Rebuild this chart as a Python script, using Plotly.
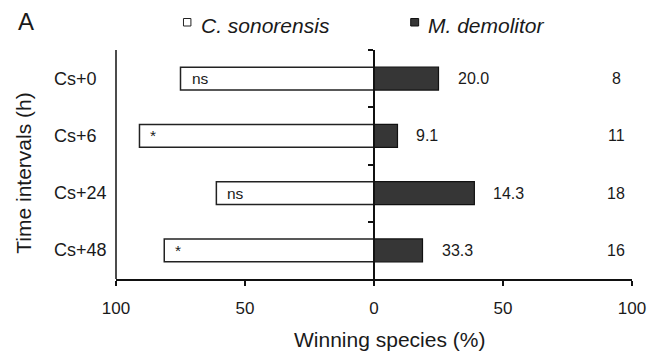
import plotly.graph_objects as go

# Outcome of competition between the two parasitoids at each time interval
intervals = ["Cs+0", "Cs+6", "Cs+24", "Cs+48"]
cs_win = [75.0, 90.9, 61.1, 81.3]      # C. sonorensis winning (%)
md_win = [25.0, 9.1, 38.9, 18.8]       # M. demolitor winning (%)
signif = ["ns", "*", "ns", "*"]
md_labels = ["20.0", "9.1", "14.3", "33.3"]
n_hosts = ["8", "11", "18", "16"]

x_ticks = [-100, -50, 0, 50, 100]
x_ticktext = ["100", "50", "0", "50", "100"]

W, H = 658, 358
L, R, T, B = 116, 22, 50, 79
PW, PH = W - L - R, H - T - B
FONT = "Liberation Sans, Arial, Helvetica, sans-serif"
INK = "#1a1a1a"


def px(x):
    return (x - L) / PW


def py(y):
    return (H - B - y) / PH


fig = go.Figure()
fig.add_trace(go.Bar(
    y=intervals, x=[-v for v in cs_win], orientation="h", width=0.4,
    marker=dict(color="white", line=dict(color="#222222", width=1.5)),
    name="C. sonorensis", hoverinfo="skip",
))
fig.add_trace(go.Bar(
    y=intervals, x=md_win, orientation="h", width=0.4,
    marker=dict(color="#363636", line=dict(color="#111111", width=1.2)),
    name="M. demolitor", hoverinfo="skip",
))

ann = []
for cat, v, s in zip(intervals, cs_win, signif):
    ann.append(dict(x=-v, y=cat, xref="x", yref="y", text=s, showarrow=False,
                    xanchor="left", xshift=9, font=dict(size=15.5, color=INK)))
for cat, v, t in zip(intervals, md_win, md_labels):
    ann.append(dict(x=v, y=cat, xref="x", yref="y", text=t, showarrow=False,
                    xanchor="left", xshift=17, font=dict(size=16, color=INK)))
for cat, n in zip(intervals, n_hosts):
    ann.append(dict(x=px(620), y=cat, xref="paper", yref="y", text=n, showarrow=False,
                    xanchor="center", font=dict(size=16, color=INK)))
# category labels, left aligned
for cat in intervals:
    ann.append(dict(x=px(52), y=cat, xref="paper", yref="y", text=cat, showarrow=False,
                    xanchor="left", font=dict(size=18, color=INK)))
# axis titles
ann.append(dict(x=px(22), y=py(173), xref="paper", yref="paper", text="Time intervals (h)",
                showarrow=False, textangle=-90, xanchor="center", yanchor="middle",
                font=dict(size=21, color=INK)))
ann.append(dict(x=px(392), y=py(339), xref="paper", yref="paper", text="Winning species (%)",
                showarrow=False, xanchor="center", yanchor="middle",
                font=dict(size=21, color=INK)))
# panel letter
ann.append(dict(x=px(25), y=py(22), xref="paper", yref="paper", text="A",
                showarrow=False, xanchor="center", yanchor="middle",
                font=dict(size=24, color=INK)))
# legend texts
ann.append(dict(x=px(200), y=py(25.5), xref="paper", yref="paper", text="<i>C. sonorensis</i>",
                showarrow=False, xanchor="left", yanchor="middle",
                font=dict(size=21, color=INK)))
ann.append(dict(x=px(428), y=py(25.5), xref="paper", yref="paper", text="<i>M. demolitor</i>",
                showarrow=False, xanchor="left", yanchor="middle",
                font=dict(size=21, color=INK)))

shapes = [
    # left frame line
    dict(type="line", xref="paper", yref="paper", x0=0, x1=0, y0=0, y1=1,
         line=dict(color="#111111", width=1.5)),
    # legend swatches
    dict(type="rect", xref="paper", yref="paper", x0=px(184), x1=px(191.5), y0=py(26), y1=py(18.5),
         fillcolor="white", line=dict(color="#222222", width=1)),
    dict(type="rect", xref="paper", yref="paper", x0=px(413), x1=px(421), y0=py(26), y1=py(18.5),
         fillcolor="#363636", line=dict(color="#111111", width=1)),
]

fig.update_layout(
    width=W, height=H, margin=dict(l=L, r=R, t=T, b=B),
    paper_bgcolor="white", plot_bgcolor="white",
    barmode="relative", showlegend=False,
    font=dict(family=FONT, color=INK),
    annotations=ann, shapes=shapes,
    xaxis=dict(range=[-100, 100], tickvals=x_ticks, ticktext=x_ticktext,
               showline=True, linecolor="#111111", linewidth=1.5,
               ticks="outside", ticklen=5, tickwidth=1.5, tickcolor="#111111",
               ticklabelstandoff=8,
               showgrid=False, zeroline=False, tickfont=dict(size=17, color=INK),
               fixedrange=True),
    yaxis=dict(categoryorder="array", categoryarray=intervals, range=[3.5, -0.5],
               anchor="free", position=0.5, showline=True, linecolor="#111111",
               linewidth=1.5, ticks="outside", tickson="boundaries", ticklen=5,
               tickwidth=1.5, tickcolor="#111111", showticklabels=False,
               showgrid=False, zeroline=False, fixedrange=True),
)

fig.write_html("out.html")
